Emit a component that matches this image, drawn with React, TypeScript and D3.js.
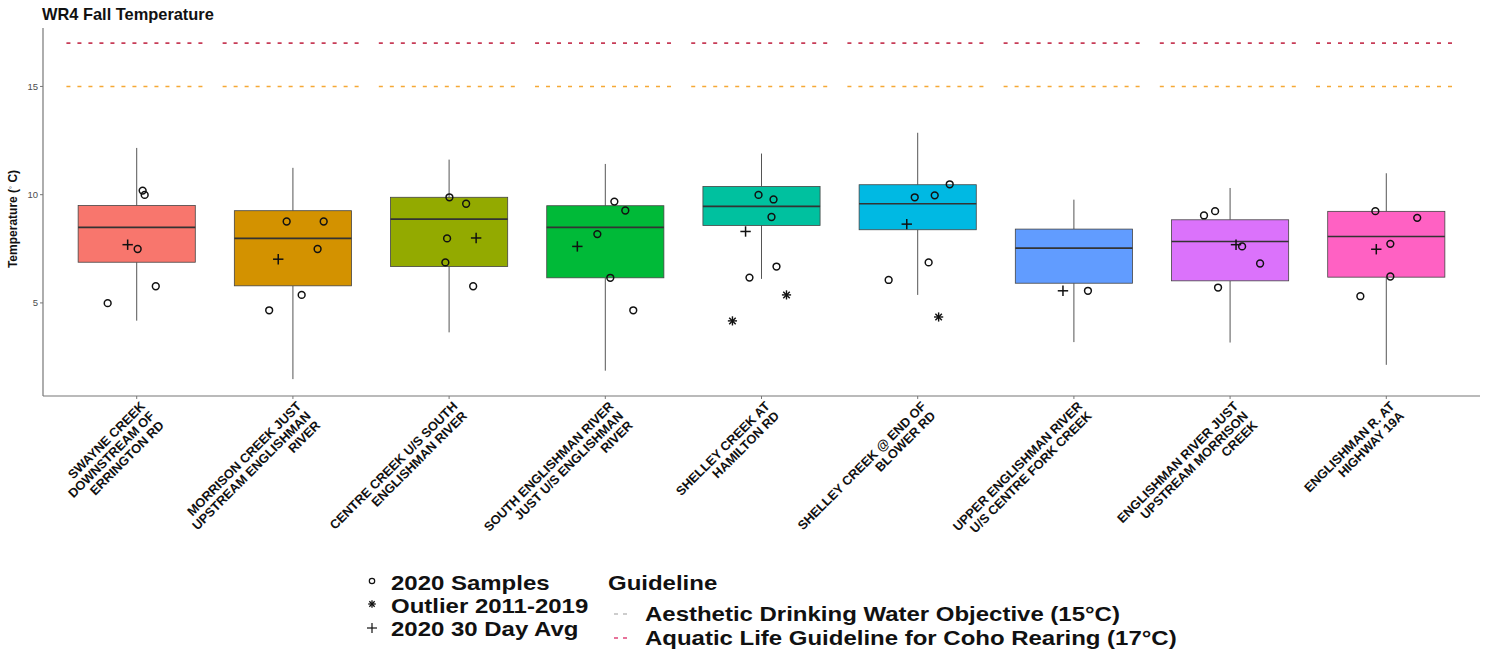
import React from "react";
import * as d3 from "d3";

const title = "WR4 Fall Temperature";
const siteLabels: string[][] = [
  ["SWAYNE CREEK", "DOWNSTREAM OF", "ERRINGTON RD"],
  ["MORRISON CREEK JUST", "UPSTREAM ENGLISHMAN", "RIVER"],
  ["CENTRE CREEK U/S SOUTH", "ENGLISHMAN RIVER"],
  ["SOUTH ENGLISHMAN RIVER", "JUST U/S ENGLISHMAN", "RIVER"],
  ["SHELLEY CREEK AT", "HAMILTON RD"],
  ["SHELLEY CREEK @ END OF", "BLOWER RD"],
  ["UPPER ENGLISHMAN RIVER", "U/S CENTRE FORK CREEK"],
  ["ENGLISHMAN RIVER JUST", "UPSTREAM MORRISON", "CREEK"],
  ["ENGLISHMAN R. AT", "HIGHWAY 19A"],
];
const siteIds = siteLabels.map((l) => l.join(" "));

// Box statistics 2011-2019
const whiskerLow = [4.18, 1.48, 3.64, 1.87, 6.11, 5.37, 3.19, 3.17, 2.14];
const q1 = [6.88, 5.79, 6.68, 6.16, 8.58, 8.38, 5.91, 6.02, 6.19];
const median = [8.49, 7.98, 8.87, 8.49, 9.46, 9.58, 7.53, 7.84, 8.07];
const q3 = [9.5, 9.26, 9.88, 9.49, 10.38, 10.46, 8.41, 8.84, 9.23];
const whiskerHigh = [12.16, 11.24, 11.62, 11.42, 11.9, 12.86, 9.77, 10.31, 10.99];

// 2020 samples (value) and jitter (category units)
const samples2020: number[][] = [
  [4.99, 10.19, 9.99, 7.49, 5.77],
  [8.76, 8.76, 7.49, 5.37, 4.66],
  [9.88, 9.58, 7.98, 6.87, 5.77],
  [9.68, 9.27, 8.18, 6.16, 4.66],
  [9.99, 9.78, 8.97, 6.68, 6.17],
  [10.48, 9.97, 9.88, 6.87, 6.06],
  [5.56],
  [9.24, 9.04, 7.61, 6.82, 5.71],
  [9.24, 8.93, 7.73, 6.22, 5.31],
];
const samplesJitter: number[][] = [
  [-0.186, 0.038, 0.051, 0.006, 0.122],
  [-0.04, 0.197, 0.158, 0.056, -0.152],
  [0.002, 0.109, -0.013, -0.024, 0.154],
  [0.058, 0.128, -0.051, 0.032, 0.179],
  [-0.019, 0.077, 0.064, 0.096, -0.077],
  [0.205, 0.109, -0.019, 0.07, -0.186],
  [0.09],
  [-0.096, -0.167, 0.077, 0.192, -0.077],
  [-0.07, 0.198, 0.026, 0.026, -0.166],
];

// 2020 30-day average
const avg30 = [7.69, 7.02, 8.0, 7.61, 8.3, 8.64, 5.56, 7.69, 7.48];
const avgJitter = [-0.058, -0.094, 0.173, -0.179, -0.102, -0.07, -0.07, 0.038, -0.064];

// Outliers 2011-2019
const outlierSite = [4, 4, 5];
const outlierValue = [4.17, 5.37, 4.35];
const outlierJitter = [-0.186, 0.16, 0.134];

const boxColors = ["#F8766D", "#D39200", "#93AA00", "#00BA38", "#00C19F", "#00B9E3", "#619CFF", "#DB72FB", "#FF61C3"];

const guidelineValues = [15, 17];
const guidelineNames = ["Aesthetic Drinking Water Objective (15°C)", "Aquatic Life Guideline for Coho Rearing (17°C)"];
const guidelineColors = ["#F5A020", "#C22846"];
const guidelineKeyColors = ["#bdbdbd", "#e0467a"];

const yTicks = [5, 10, 15];
const symbolLegend = ["2020 Samples", "Outlier 2011-2019", "2020 30 Day Avg"];

const W = 1495;
const H = 659;
const panel = { left: 43, right: 1480, top: 28, bottom: 396 };
const FONT = "'Liberation Sans', Arial, Helvetica, sans-serif";
const LEG_FS = 20.5;
const LEG_SX = 1.17;

function Asterisk({ x, y, r, sw }: { x: number; y: number; r: number; sw: number }) {
  const angles = [0, 45, 90, 135];
  return (
    <g stroke="#111" strokeWidth={sw}>
      {angles.map((a) => {
        const rad = (a * Math.PI) / 180;
        return (
          <line key={a} x1={x - r * Math.cos(rad)} y1={y - r * Math.sin(rad)} x2={x + r * Math.cos(rad)} y2={y + r * Math.sin(rad)} />
        );
      })}
    </g>
  );
}

function Plus({ x, y, r }: { x: number; y: number; r: number }) {
  return (
    <g stroke="#111" strokeWidth={1.5}>
      <line x1={x - r} y1={y} x2={x + r} y2={y} />
      <line x1={x} y1={y - r} x2={x} y2={y + r} />
    </g>
  );
}

function LegText({ x, y, children }: { x: number; y: number; children: React.ReactNode }) {
  return (
    <text transform={`translate(${x},${y}) scale(${LEG_SX},1)`} fontSize={LEG_FS} fontWeight="bold" fill="#111">{children}</text>
  );
}

export default function App() {
  const x = d3.scalePoint<string>().domain(siteIds).range([panel.left, panel.right]).padding(0.6);
  const step = x.step();
  const y = d3.scaleLinear().domain([0.7, 17.7]).range([panel.bottom, panel.top]);
  const boxW = step * 0.75;
  const lineW = step * 0.9;

  return (
    <svg width={W} height={H} style={{ position: "absolute", left: 0, top: 0, background: "#fff" }} fontFamily={FONT}>
      <rect width={W} height={H} fill="#fff" />
      {/* title */}
      <text x={42} y={20} fontSize={16.4} fontWeight="bold" fill="#111">{title}</text>

      {/* guideline dashed segments */}
      {guidelineValues.map((g, gi) =>
        siteIds.map((s) => (
          <line key={`g${gi}-${s}`} x1={(x(s) as number) - lineW / 2} x2={(x(s) as number) + lineW / 2} y1={y(g)} y2={y(g)}
            stroke={guidelineColors[gi]} strokeWidth={1.6} strokeDasharray="4,7" opacity={0.9} />
        ))
      )}

      {/* boxes */}
      {siteIds.map((s, i) => {
        const cx = x(s) as number;
        return (
          <g key={`b${i}`}>
            <line x1={cx} x2={cx} y1={y(q3[i])} y2={y(whiskerHigh[i])} stroke="#555" strokeWidth={1} />
            <line x1={cx} x2={cx} y1={y(q1[i])} y2={y(whiskerLow[i])} stroke="#555" strokeWidth={1} />
            <rect x={cx - boxW / 2} width={boxW} y={y(q3[i])} height={y(q1[i]) - y(q3[i])} fill={boxColors[i]} stroke="#444" strokeWidth={0.8} />
            <line x1={cx - boxW / 2} x2={cx + boxW / 2} y1={y(median[i])} y2={y(median[i])} stroke="#333" strokeWidth={1.6} />
          </g>
        );
      })}

      {/* samples */}
      {samples2020.map((vals, i) =>
        vals.map((v, j) => (
          <circle key={`s${i}-${j}`} cx={(x(siteIds[i]) as number) + samplesJitter[i][j] * step} cy={y(v)} r={3.4}
            fill="none" stroke="#111" strokeWidth={1.5} />
        ))
      )}
      {/* 30 day avg */}
      {avg30.map((v, i) => (
        <Plus key={`a${i}`} x={(x(siteIds[i]) as number) + avgJitter[i] * step} y={y(v)} r={5.2} />
      ))}
      {/* outliers */}
      {outlierValue.map((v, k) => (
        <Asterisk key={`o${k}`} x={(x(siteIds[outlierSite[k]]) as number) + outlierJitter[k] * step} y={y(v)} r={4.6} sw={1.4} />
      ))}

      {/* axes */}
      <line x1={panel.left} x2={panel.left} y1={panel.top} y2={panel.bottom} stroke="#777" strokeWidth={1.2} />
      <line x1={panel.left} x2={panel.right} y1={panel.bottom} y2={panel.bottom} stroke="#777" strokeWidth={1.2} />
      {yTicks.map((t) => (
        <g key={`yt${t}`}>
          <line x1={panel.left - 3} x2={panel.left} y1={y(t)} y2={y(t)} stroke="#777" />
          <text x={panel.left - 5} y={y(t)} dy="0.35em" textAnchor="end" fontSize={9.5} fill="#4d4d4d">{t}</text>
        </g>
      ))}
      <text transform={`translate(17,${(panel.top + panel.bottom) / 2 + 7}) rotate(-90)`} textAnchor="middle" fontSize={12} fontWeight="bold" fill="#111">
        Temperature (<tspan dy="-4" fontSize={8.5}>◦</tspan><tspan dy="4"> C)</tspan>
      </text>

      {siteIds.map((s, i) => {
        const cx = x(s) as number;
        return (
          <g key={`xl${i}`}>
            <line x1={cx} x2={cx} y1={panel.bottom} y2={panel.bottom + 3} stroke="#777" />
            <g transform={`translate(${cx + 2},${panel.bottom + 4}) rotate(-45)`}>
              {siteLabels[i].map((ln, k) => (
                <text key={k} x={0} y={10 + k * 13.5} textAnchor="end" fontSize={12.8} fontWeight="bold" fill="#111">{ln}</text>
              ))}
            </g>
          </g>
        );
      })}

      {/* legend: symbols */}
      <g>
        <circle cx={372} cy={581} r={2.7} fill="none" stroke="#111" strokeWidth={1.2} />
        <Asterisk x={372} y={604} r={3.8} sw={1.3} />
        <g stroke="#111" strokeWidth={1.2}>
          <line x1={367} x2={377} y1={628} y2={628} />
          <line x1={372} x2={372} y1={623} y2={633} />
        </g>
        {symbolLegend.map((t, k) => (
          <LegText key={t} x={391} y={590 + k * 23}>{t}</LegText>
        ))}
      </g>
      {/* legend: guideline */}
      <g>
        <LegText x={608} y={590}>Guideline</LegText>
        {guidelineNames.map((n, k) => (
          <g key={n}>
            <line x1={614} x2={632} y1={614 + k * 24} y2={614 + k * 24} stroke={guidelineKeyColors[k]} strokeWidth={1.3} strokeDasharray="4,5" />
            <LegText x={645} y={621 + k * 24}>{n}</LegText>
          </g>
        ))}
      </g>
    </svg>
  );
}
